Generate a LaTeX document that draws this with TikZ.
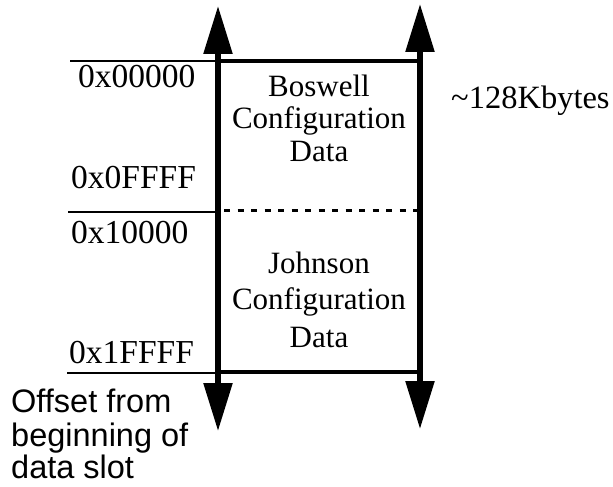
\documentclass[tikz,border=0pt]{standalone}
\usepackage{fontspec}
\setmainfont{Liberation Serif}
\setsansfont{Liberation Sans}
\usetikzlibrary{arrows.meta}

\begin{document}
\begin{tikzpicture}
			[x=1pt, y=-1pt, inner sep=0pt,
			 big/.style = {font=\fontsize{31}{34}\selectfont},
			 addr/.style = {font=\fontsize{33.5}{36}\selectfont, anchor=base west},
			 area/.style = {big, anchor=base},
			 axis/.style = {line width=5.5pt, {Triangle[length=48pt,width=28pt]}-{Triangle[length=48pt,width=28pt]}},
			 edge/.style = {line width=4pt},
			 tick/.style = {line width=1.8pt}]
			\useasboundingbox (0,0) rectangle (613,487);
			% arrow ends of the two sides
			\coordinate (lt) at (218,6);
			\coordinate (lb) at (218,431);
			\coordinate (rt) at (420,4);
			\coordinate (rb) at (420,429);
			% box corners and split
			\coordinate (tl) at (218,61);
			\coordinate (tr) at (420,61);
			\coordinate (bl) at (218,372);
			\coordinate (br) at (420,372);
			\coordinate (ml) at (224,210);
			\coordinate (mr) at (418,210);
			% tick lines on the left
			\coordinate (t0) at (70,61);   \coordinate (t0e) at (216,61);
			\coordinate (t1) at (68,212);  \coordinate (t1e) at (215,212);
			\coordinate (t2) at (67,373);  \coordinate (t2e) at (215,373);
            \draw[axis] (lb) -- (lt) ;
            \draw[axis] (rb) -- (rt) ;
            \draw[edge] (tl) -- (tr) ;
            \draw[edge] (bl) -- (br) ;
            \draw[line width=3pt, dash pattern=on 6pt off 7.5pt] (ml) -- (mr) ;
            \draw[tick] (t0) -- (t0e) ;
            \draw[tick] (t1) -- (t1e) ;
            \draw[tick] (t2) -- (t2e) ;
			% addresses
			\node[addr] (a0) at (78,88) {0x00000};
			\node[addr] (a1) at (71,188) {0x0FFFF};
			\node[addr] (a2) at (71,243) {0x10000};
			\node[addr] (a3) at (69,363) {0x1FFFF};
			% contents of the slot
			\node[area] (b1) at (319,96) {Boswell};
			\node[area] (b2) at (319,128) {Configuration};
			\node[area] (b3) at (319,161) {Data};
			\node[area] (j1) at (319,273) {Johnson};
			\node[area] (j2) at (319,309) {Configuration};
			\node[area] (j3) at (319,347) {Data};
			\node[addr, font=\fontsize{32.5}{35}\selectfont] (size) at (451,108) {\textasciitilde 128Kbytes};
			% caption under the left side
			\node[addr, font=\sffamily\fontsize{32.5}{35}\selectfont] (o1) at (11,412) {Offset from};
			\node[addr, font=\sffamily\fontsize{32.5}{35}\selectfont] (o2) at (11,446) {beginning of};
			\node[addr, font=\sffamily\fontsize{32.5}{35}\selectfont] (o3) at (11,478) {data slot};
		\end{tikzpicture}
\end{document}
